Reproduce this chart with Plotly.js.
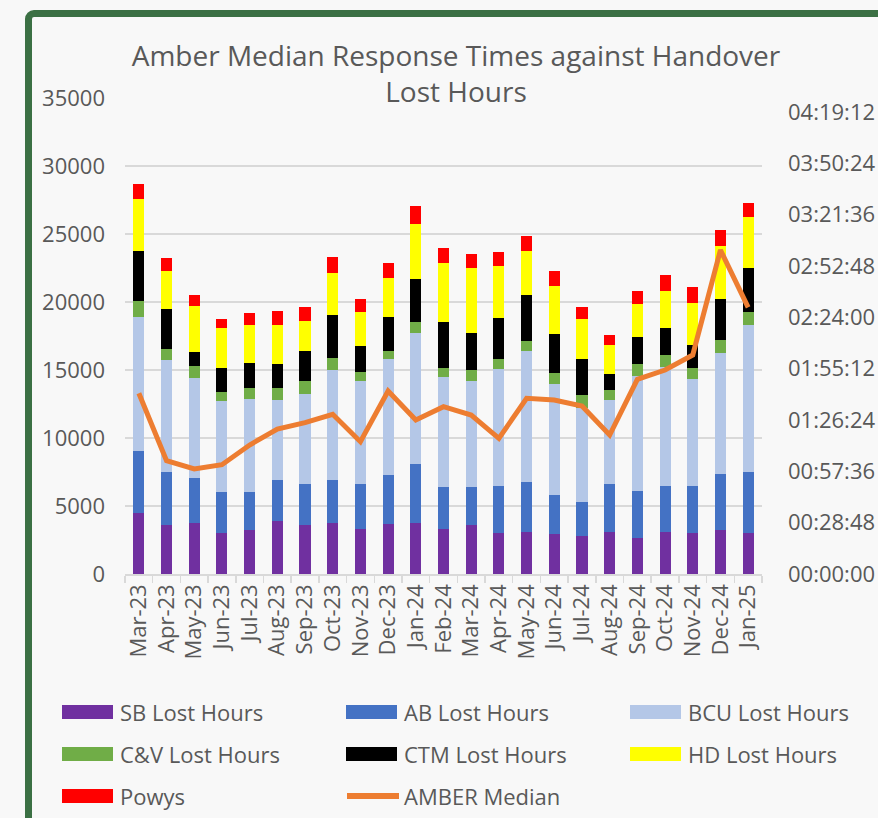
<!DOCTYPE html>
<html>
<head>
<meta charset="utf-8">
<script src="https://cdn.plot.ly/plotly-3.0.1.min.js"></script>
<style>
  html, body { margin: 0; padding: 0; background: #f8f8f8; width: 878px; height: 818px; overflow: hidden; }
  #frame { position: absolute; left: 25px; top: 10px; width: 900px; height: 860px; border: 7px solid #3b7044; border-radius: 9px; box-sizing: border-box; background: #f8f8f8; }
  #chart { position: absolute; left: 0; top: 0; width: 878px; height: 818px; }
</style>
</head>
<body>
<div id="frame"></div>
<div id="chart"></div>
<script>
const months = ['Mar-23','Apr-23','May-23','Jun-23','Jul-23','Aug-23','Sep-23','Oct-23','Nov-23','Dec-23','Jan-24','Feb-24','Mar-24','Apr-24','May-24','Jun-24','Jul-24','Aug-24','Sep-24','Oct-24','Nov-24','Dec-24','Jan-25'];

const sbLost    = [4510,3580,3750,3015,3210,3870,3580,3750,3285,3675,3750,3285,3580,3015,3115,2915,2820,3115,2650,3115,3015,3210,3015];
const abLost    = [4535,3945,3310,3015,2820,3015,3015,3135,3310,3580,4340,3110,2815,3480,3650,2915,2450,3480,3455,3380,3480,4145,4510];
const bcuLost   = [9875,8185,7325,6665,6860,5905,6665,8090,7620,8555,9610,8090,7820,8555,9605,8115,6960,6200,8480,8750,7820,8920,10810];
const cvLost    = [1130,835,935,660,760,860,955,930,665,565,830,660,760,760,760,835,930,760,860,835,835,955,955];
const ctmLost   = [3675,2940,980,1790,1885,1790,2155,3115,1860,2550,3140,3380,2720,3015,3385,2845,2645,1125,1965,1985,1690,2990,3190];
const hdLost    = [3825,2820,3380,2915,2745,2845,2255,3090,2550,2820,4045,4340,4805,3845,3210,3580,2915,2180,2445,2745,3115,3895,3795];
const powysLost = [1125,905,810,660,885,1080,1030,1225,930,1105,1370,1105,1005,1030,1105,1105,930,735,930,1200,1130,1175,1010];

// AMBER median response time (hh:mm:ss)
const amberMedian = ['01:41:22','01:03:35','00:58:54','01:01:20','01:12:22','01:21:21','01:24:53','01:29:35','01:14:14','01:42:40','01:26:24','01:33:52','01:29:12','01:16:07','01:38:34','01:37:37','01:34:15','01:17:59','01:49:13','01:54:27','02:02:52','03:01:46','02:29:37'];

const barNames  = ['SB Lost Hours','AB Lost Hours','BCU Lost Hours','C&V Lost Hours','CTM Lost Hours','HD Lost Hours','Powys'];
const barColors = ['#7030a0','#4472c4','#b4c7e7','#70ad47','#000000','#ffff00','#ff0000'];
const barData   = [sbLost, abLost, bcuLost, cvLost, ctmLost, hdLost, powysLost];
const lineName  = 'AMBER Median';
const lineColor = '#ed7d31';

const traces = barData.map((vals, i) => ({
  type: 'bar', name: barNames[i], x: months, y: vals,
  marker: { color: barColors[i], line: { width: 0 } },
  showlegend: false, hoverinfo: 'x+y+name'
}));
traces.push({
  type: 'scatter', mode: 'lines', name: lineName, x: months,
  y: amberMedian.map(t => '1970-01-01 ' + t),
  yaxis: 'y2', line: { color: lineColor, width: 5 }, showlegend: false
});

// Plot box in pixels (for custom legend placement)
const W = 878, H = 818, L = 125, R = 116, T = 98, B = 244;
const pw = W - L - R, ph = H - T - B;
const px = v => (v - L) / pw;
const py = v => (H - B - v) / ph;

const gray = '#595959';
const font = '"Open Sans", "Noto Sans", sans-serif';

// custom legend (3 columns)
const legendItems = barNames.map((n, i) => ({ name: n, color: barColors[i], kind: 'bar' }));
legendItems.push({ name: lineName, color: lineColor, kind: 'line' });
const colX = [62, 346, 630];
const rowY = [712, 754, 796];
const shapes = [];
const annotations = [];
legendItems.forEach((it, i) => {
  const cx = colX[i % 3], cy = rowY[Math.floor(i / 3)];
  if (it.kind === 'bar') {
    shapes.push({ type: 'rect', xref: 'paper', yref: 'paper', x0: px(cx), x1: px(cx + 51), y0: py(cy - 7), y1: py(cy + 7),
      fillcolor: it.color, line: { width: 0 } });
  } else {
    shapes.push({ type: 'line', xref: 'paper', yref: 'paper', x0: px(cx + 1), x1: px(cx + 53), y0: py(cy), y1: py(cy),
      line: { color: it.color, width: 6 } });
  }
  annotations.push({ xref: 'paper', yref: 'paper', x: px(cx + 56), y: py(cy), xanchor: 'left', yanchor: 'middle',
    text: it.name.replace('&', '&amp;'), showarrow: false, font: { family: font, size: 22, color: gray } });
});

const layout = {
  width: W, height: H, autosize: false,
  margin: { l: L, r: R, t: T, b: B, pad: 0 },
  paper_bgcolor: 'rgba(0,0,0,0)', plot_bgcolor: 'rgba(0,0,0,0)',
  barmode: 'stack', bargap: 0.6,
  title: {
    text: 'Amber Median Response Times against Handover<br>Lost Hours',
    font: { family: font, size: 28, color: gray },
    xref: 'container', yref: 'container', x: 456 / W, xanchor: 'center', y: 1 - 66 / H, yanchor: 'top'
  },
  font: { family: font, color: gray },
  xaxis: {
    type: 'category', tickangle: -90, tickfont: { family: font, size: 22, color: gray },
    showline: true, linecolor: '#d9d9d9', linewidth: 1.5,
    ticks: 'outside', tickson: 'boundaries', ticklen: 7, tickcolor: '#d9d9d9', tickwidth: 1.5,
    showgrid: false, zeroline: false, fixedrange: true
  },
  yaxis: {
    range: [0, 35000], dtick: 5000, tick0: 0, tickformat: 'd',
    tickfont: { family: font, size: 22, color: gray },
    showgrid: true, gridcolor: '#d9d9d9', gridwidth: 1.5, zeroline: false, showline: false,
    ticks: '', ticklabelstandoff: 19, fixedrange: true
  },
  yaxis2: {
    type: 'date', overlaying: 'y', side: 'right',
    range: ['1970-01-01 00:00:00', '1970-01-01 04:27:03'],
    tick0: '1970-01-01 00:00:00', dtick: 1728000, tickformat: '%H:%M:%S',
    tickfont: { family: font, size: 22, color: gray },
    showgrid: false, zeroline: false, showline: false, ticks: '', ticklabelstandoff: 25, fixedrange: true
  },
  shapes: shapes,
  annotations: annotations,
  showlegend: false
};

Plotly.newPlot('chart', traces, layout, { displayModeBar: false, staticPlot: true });
</script>
</body>
</html>
